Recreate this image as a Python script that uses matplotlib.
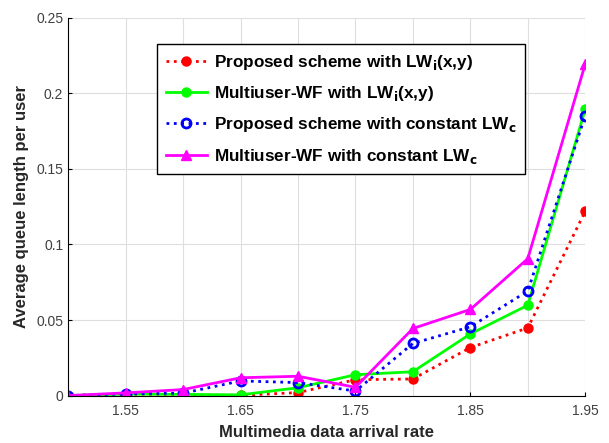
import numpy as np
import matplotlib
matplotlib.use('Agg')
import matplotlib.pyplot as plt

plt.rcParams['font.family'] = ['Liberation Sans', 'DejaVu Sans']

# arrival rate
rate = [1.5, 1.55, 1.6, 1.65, 1.7, 1.75, 1.8, 1.85, 1.9, 1.95]

# average queue length per user
prop_lwi = [0.0, 0.001, 0.0005, 0.0002, 0.002, 0.0105, 0.011, 0.0318, 0.0448, 0.122]
mwf_lwi = [0.0, 0.001, 0.0008, 0.0005, 0.0052, 0.0138, 0.0158, 0.0408, 0.0598, 0.1895]
prop_lwc = [0.0, 0.0012, 0.0016, 0.0097, 0.0086, 0.003, 0.0345, 0.0455, 0.0692, 0.1853]
mwf_lwc = [0.0, 0.0018, 0.004, 0.0118, 0.0128, 0.0055, 0.0444, 0.057, 0.0906, 0.2194]

labels = [r'Proposed scheme with LW$_{\mathbf{i}}$(x,y)',
          r'Multiuser-WF with LW$_{\mathbf{i}}$(x,y)',
          r'Proposed scheme with constant LW$_{\mathbf{c}}$',
          r'Multiuser-WF with constant LW$_{\mathbf{c}}$']

fig = plt.figure(figsize=(6.09, 4.43), dpi=100)
ax = fig.add_axes([0.112, 0.107, 0.849, 0.853])

ax.plot(rate, prop_lwi, color='#ff0000', ls=':', lw=2, marker='o', ms=6.5,
        mfc='#ff0000', label=labels[0])
ax.plot(rate, mwf_lwi, color='#00ff00', ls='-', lw=2, marker='o', ms=6.5,
        mfc='#00ff00', label=labels[1])
ax.plot(rate, prop_lwc, color='#0000ff', ls=':', lw=2, marker='o', ms=6.5,
        mfc='none', mew=2, label=labels[2])
ax.plot(rate, mwf_lwc, color='#ff00ff', ls='-', lw=2, marker='^', ms=7.5,
        mfc='#ff00ff', label=labels[3])

ax.set_xlim(1.5, 1.95)
ax.set_ylim(0, 0.25)
ax.set_xticks([1.55, 1.65, 1.75, 1.85, 1.95])
ax.set_xticklabels(['1.55', '1.65', '1.75', '1.85', '1.95'])
ax.set_yticks([0, 0.05, 0.1, 0.15, 0.2, 0.25])
ax.set_yticklabels(['0', '0.05', '0.1', '0.15', '0.2', '0.25'])
ax.set_xticks(np.arange(1.5, 1.96, 0.05), minor=True)
ax.grid(True, which='both', axis='x', color='#dedede', lw=0.8)
ax.grid(True, which='major', axis='y', color='#dedede', lw=0.8)
ax.tick_params(which='minor', length=0)
ax.tick_params(direction='in', length=3, colors='#000000', labelcolor='#404040',
               labelsize=10)
ax.tick_params(axis='x', pad=6)
ax.spines['top'].set_visible(False)
ax.spines['right'].set_visible(False)
ax.set_axisbelow(True)

ax.set_xlabel('Multimedia data arrival rate', fontsize=12, fontweight='bold',
              color='#262626', labelpad=5)
ax.set_ylabel('Average queue length per user', fontsize=12, fontweight='bold',
              color='#262626', labelpad=5)

leg = ax.legend(loc='upper left', bbox_to_anchor=(0.172, 0.93), borderaxespad=0,
                fancybox=False, edgecolor='black', framealpha=1,
                handlelength=2.4, labelspacing=0.72, borderpad=0.5,
                handletextpad=0.4, prop={'weight': 'bold', 'size': 12.3})
leg.get_frame().set_linewidth(1.0)

fig.savefig('out.png', dpi=100)
